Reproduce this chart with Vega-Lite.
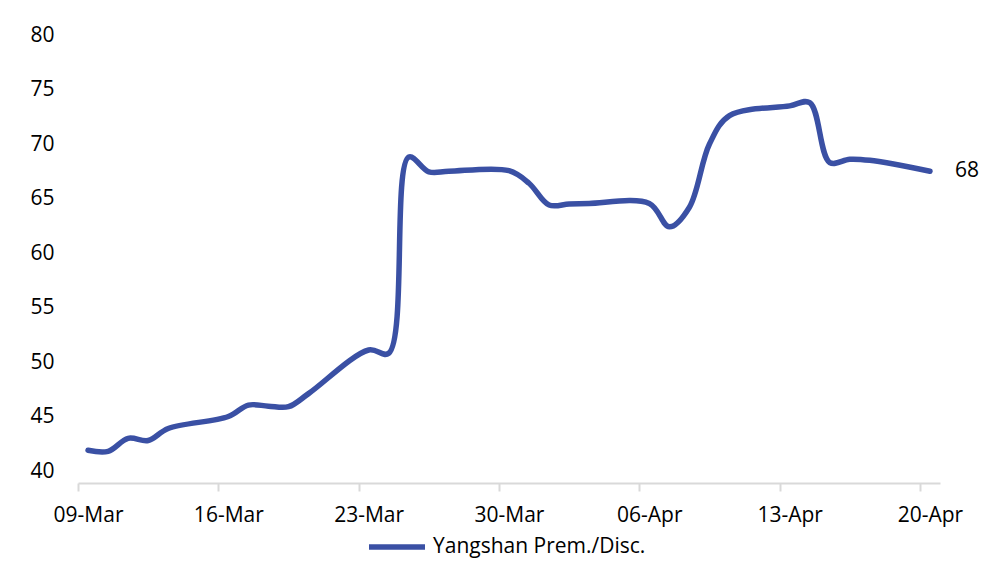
{
  "$schema": "https://vega.github.io/schema/vega-lite/v6.json",
  "autosize": "none",
  "width": 862,
  "height": 448,
  "padding": {"left": 78, "top": 35, "right": 60, "bottom": 88},
  "background": "white",
  "config": {
    "view": {"stroke": null},
    "font": "Open Sans",
    "axis": {"grid": false, "labelFont": "Open Sans", "labelFontSize": 21, "labelColor": "#000000"}
  },
  "data": {
    "values": [
      {"date": "2020-03-09T12:00:00", "value": 41.9, "series": "Yangshan Prem./Disc."},
      {"date": "2020-03-10T12:00:00", "value": 41.8, "series": "Yangshan Prem./Disc."},
      {"date": "2020-03-11T12:00:00", "value": 43.0, "series": "Yangshan Prem./Disc."},
      {"date": "2020-03-12T12:00:00", "value": 42.8, "series": "Yangshan Prem./Disc."},
      {"date": "2020-03-13T12:00:00", "value": 43.9, "series": "Yangshan Prem./Disc."},
      {"date": "2020-03-16T12:00:00", "value": 45.0, "series": "Yangshan Prem./Disc."},
      {"date": "2020-03-17T12:00:00", "value": 46.05, "series": "Yangshan Prem./Disc."},
      {"date": "2020-03-18T12:00:00", "value": 45.95, "series": "Yangshan Prem./Disc."},
      {"date": "2020-03-19T12:00:00", "value": 45.9, "series": "Yangshan Prem./Disc."},
      {"date": "2020-03-20T12:00:00", "value": 47.1, "series": "Yangshan Prem./Disc."},
      {"date": "2020-03-23T12:00:00", "value": 51.1, "series": "Yangshan Prem./Disc."},
      {"date": "2020-03-24T12:00:00", "value": 50.8, "series": "Yangshan Prem./Disc."},
      {"date": "2020-03-25T12:00:00", "value": 68.8, "series": "Yangshan Prem./Disc."},
      {"date": "2020-03-26T12:00:00", "value": 67.45, "series": "Yangshan Prem./Disc."},
      {"date": "2020-03-27T12:00:00", "value": 67.5, "series": "Yangshan Prem./Disc."},
      {"date": "2020-03-30T12:00:00", "value": 67.55, "series": "Yangshan Prem./Disc."},
      {"date": "2020-03-31T12:00:00", "value": 66.4, "series": "Yangshan Prem./Disc."},
      {"date": "2020-04-01T12:00:00", "value": 64.4, "series": "Yangshan Prem./Disc."},
      {"date": "2020-04-02T12:00:00", "value": 64.5, "series": "Yangshan Prem./Disc."},
      {"date": "2020-04-03T12:00:00", "value": 64.55, "series": "Yangshan Prem./Disc."},
      {"date": "2020-04-06T12:00:00", "value": 64.55, "series": "Yangshan Prem./Disc."},
      {"date": "2020-04-07T12:00:00", "value": 62.4, "series": "Yangshan Prem./Disc."},
      {"date": "2020-04-08T12:00:00", "value": 64.2, "series": "Yangshan Prem./Disc."},
      {"date": "2020-04-09T12:00:00", "value": 70.0, "series": "Yangshan Prem./Disc."},
      {"date": "2020-04-10T12:00:00", "value": 72.6, "series": "Yangshan Prem./Disc."},
      {"date": "2020-04-13T12:00:00", "value": 73.5, "series": "Yangshan Prem./Disc."},
      {"date": "2020-04-14T12:00:00", "value": 73.8, "series": "Yangshan Prem./Disc."},
      {"date": "2020-04-15T12:00:00", "value": 68.3, "series": "Yangshan Prem./Disc."},
      {"date": "2020-04-16T12:00:00", "value": 68.6, "series": "Yangshan Prem./Disc."},
      {"date": "2020-04-17T12:00:00", "value": 68.5, "series": "Yangshan Prem./Disc."},
      {"date": "2020-04-20T12:00:00", "value": 67.5, "series": "Yangshan Prem./Disc."}
    ]
  },
  "encoding": {
    "x": {
      "field": "date",
      "type": "temporal",
      "title": null,
      "scale": {"domain": [{"year": 2020, "month": "mar", "date": 9}, {"year": 2020, "month": "apr", "date": 21}]},
      "axis": {
        "values": [
          {"year": 2020, "month": "mar", "date": 9},
          {"year": 2020, "month": "mar", "date": 16},
          {"year": 2020, "month": "mar", "date": 23},
          {"year": 2020, "month": "mar", "date": 30},
          {"year": 2020, "month": "apr", "date": 6},
          {"year": 2020, "month": "apr", "date": 13},
          {"year": 2020, "month": "apr", "date": 20}
        ],
        "format": "%d-%b",
        "labelOffset": 10,
        "labelPadding": 13,
        "domainColor": "#d9d9d9",
        "domainWidth": 2,
        "tickColor": "#d9d9d9",
        "tickWidth": 2,
        "tickSize": 8,
        "labelFlush": false,
        "labelOverlap": false
      }
    },
    "y": {
      "field": "value",
      "type": "quantitative",
      "title": null,
      "scale": {"domain": [38.9, 80], "nice": false, "zero": false},
      "axis": {
        "values": [40, 45, 50, 55, 60, 65, 70, 75, 80],
        "domain": false,
        "ticks": false,
        "labelPadding": 24
      }
    }
  },
  "layer": [
    {
      "mark": {"type": "line", "interpolate": "catmull-rom", "strokeWidth": 5.5, "strokeCap": "round", "strokeJoin": "round", "clip": false},
      "encoding": {
        "color": {
          "field": "series",
          "type": "nominal",
          "scale": {"range": ["#3a50a4"]},
          "legend": {
            "title": null,
            "orient": "none",
            "legendX": 288,
            "legendY": 481,
            "direction": "horizontal",
            "symbolType": "stroke",
            "symbolSize": 3136,
            "symbolStrokeWidth": 5.5,
            "labelFont": "Open Sans",
            "labelFontSize": 21,
            "labelColor": "#000000",
            "labelOffset": 5,
            "labelLimit": 400
          }
        }
      }
    },
    {
      "transform": [{"filter": {"field": "date", "equal": {"year": 2020, "month": "apr", "date": 20, "hours": 12}}}],
      "mark": {"type": "text", "align": "left", "baseline": "middle", "dx": 25, "fontSize": 21, "font": "Open Sans", "color": "#000000"},
      "encoding": {
        "text": {"field": "value", "type": "quantitative", "format": ".0f"}
      }
    }
  ]
}
